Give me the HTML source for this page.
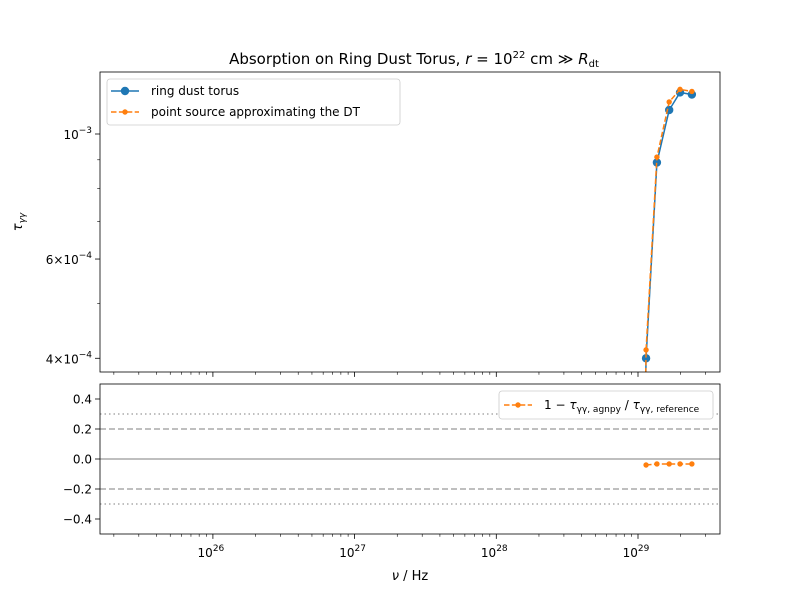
<!DOCTYPE html>
<html><head><meta charset="utf-8"><style>
html,body{margin:0;padding:0;background:#fff;overflow:hidden;width:800px;height:600px;font-family:"Liberation Sans","DejaVu Sans",sans-serif}
svg{display:block}
svg text{font-family:"DejaVu Sans","Liberation Sans",sans-serif;fill:#000}
</style></head><body>
<svg id="c" width="800" height="600" xmlns="http://www.w3.org/2000/svg"></svg>
<script>
const freqs=[1.12e29,1.14e29,1.36e29,1.66e29,1.98e29,2.4e29];
const tauRing=[3.0e-4,4.0e-4,8.9e-4,1.103e-3,1.185e-3,1.175e-3];
const tauPoint=[3.0e-4,4.14e-4,9.1e-4,1.14e-3,1.2e-3,1.19e-3];
const ratio=[null,-0.04,-0.033,-0.033,-0.033,-0.033];
const xTickExp=[26,27,28,29];
const yTopTicks=[4e-4,6e-4,1e-3];
const yTopLabels=["4\u00d710","6\u00d710","10"];
const yTopSup=["\u22124","\u22124","\u22123"];
const yBotTicks=[0.4,0.2,0.0,-0.2,-0.4];

const S=document.getElementById('c');const NS='http://www.w3.org/2000/svg';
function el(t,a,p){const e=document.createElementNS(NS,t);for(const k in a)e.setAttribute(k,a[k]);(p||S).appendChild(e);return e;}
const L=100,R=720,T1=72,B1=372,T2=384,B2=534;
const xs=v=>638+(Math.log10(v)-29)*141.7;
const ys=v=>134-(Math.log10(v)+3)*563.6;
const yb=v=>459-v*150;
const defs=el('defs',{});
const cp1=el('clipPath',{id:'cp1'},defs);el('rect',{x:L,y:T1,width:R-L,height:B1-T1},cp1);
const cp2=el('clipPath',{id:'cp2'},defs);el('rect',{x:L,y:T2,width:R-L,height:B2-T2},cp2);

let t=el('text',{x:414,y:64,'text-anchor':'middle','font-size':15});

t.innerHTML='Absorption on Ring Dust Torus, <tspan font-style="italic">r</tspan> = 10<tspan dy="-6" font-size="10">22</tspan><tspan dy="6"> cm \u226b </tspan><tspan font-style="italic">R</tspan><tspan dy="3" font-size="10">dt</tspan>';

function xticks(yb0,labels){
  for(let e=25;e<=29;e++)for(let m=1;m<10;m++){const v=m*Math.pow(10,e);const x=xs(v);if(x<L||x>R)continue;
    const len=m==1?3.5:2;el('line',{x1:x,x2:x,y1:yb0,y2:yb0+len*1.4,stroke:'#000','stroke-width':m==1?0.8:0.6});}
  if(labels)xTickExp.forEach(e=>{const x=xs(Math.pow(10,e));const tx=el('text',{x:x-2,y:yb0+23,'text-anchor':'middle','font-size':12});
    
    tx.innerHTML='10<tspan dy="-6" font-size="9">'+e+'</tspan>';});
}
xticks(B1,false);xticks(B2,true);

[5e-4,7e-4,8e-4,9e-4].forEach(v=>el('line',{x1:L-2.8,x2:L,y1:ys(v),y2:ys(v),stroke:'#000','stroke-width':0.6}));
yTopTicks.forEach((v,i)=>{const y=ys(v);el('line',{x1:L-5,x2:L,y1:y,y2:y,stroke:'#000','stroke-width':0.8});
  const tx=el('text',{x:L-8,y:y+5,'text-anchor':'end','font-size':12});
  
  tx.innerHTML=yTopLabels[i]+'<tspan dy="-6" font-size="9">'+yTopSup[i]+'</tspan>';});
let yl=el('text',{x:22,y:222,'text-anchor':'middle','font-size':13,transform:'rotate(-90 22 222)'});

yl.innerHTML='<tspan font-style="italic">\u03c4</tspan><tspan dy="3" font-size="9" font-style="italic">\u03b3\u03b3</tspan>';

const g1=el('g',{'clip-path':'url(#cp1)'});
function series(g,ys_,vals,col,dash,r,name,skipFirstMarker){
  const pts=freqs.map((f,i)=>vals[i]==null?null:[xs(f),ys_(vals[i])]).filter(p=>p);
  const pl=el('polyline',{points:pts.map(p=>p.join(',')).join(' '),fill:'none',stroke:col,'stroke-width':1.5,'stroke-dasharray':dash||''},g);
  
  pts.forEach(p=>{if(p[1]>B2)return;const c=el('circle',{cx:p[0],cy:p[1],r:r,fill:col},g);
    });
}
series(g1,ys,tauRing,'#1f77b4','',4.2,'ring-dust-torus');
series(g1,ys,tauPoint,'#ff7f0e','5.5,2.4',2.7,'point-source');
el('rect',{x:L,y:T1,width:R-L,height:B1-T1,fill:'none',stroke:'#000','stroke-width':0.8});

const lg=el('g',{});
el('rect',{x:107,y:79,width:293,height:46,rx:3,fill:'#fff',stroke:'#ccc','stroke-width':0.8},lg);
el('line',{x1:111,x2:139,y1:91,y2:91,stroke:'#1f77b4','stroke-width':1.5},lg);
el('circle',{cx:125,cy:91,r:4.2,fill:'#1f77b4'},lg);
el('text',{x:151,y:95,'font-size':12},lg).textContent='ring dust torus';
el('line',{x1:111,x2:139,y1:112,y2:112,stroke:'#ff7f0e','stroke-width':1.5,'stroke-dasharray':'5.5,2.4'},lg);
el('circle',{cx:125,cy:112,r:2.7,fill:'#ff7f0e'},lg);
el('text',{x:151,y:116,'font-size':12},lg).textContent='point source approximating the DT';

const g2=el('g',{'clip-path':'url(#cp2)'});
[[0.3,'1.5,3','#aaa'],[-0.3,'1.5,3','#aaa'],[0.2,'6,3','#aaa'],[-0.2,'6,3','#aaa'],[0,'','#aaa']].forEach(a=>{
  el('line',{x1:L,x2:R,y1:yb(a[0]),y2:yb(a[0]),stroke:a[2],'stroke-width':1.5,'stroke-dasharray':a[1]},g2);});
series(g2,yb,ratio,'#ff7f0e','5.5,2.4',2.7,'ratio');
yBotTicks.forEach(v=>{const y=yb(v);el('line',{x1:L-5,x2:L,y1:y,y2:y,stroke:'#000','stroke-width':0.8});
  const tx=el('text',{x:L-8,y:y+4.5,'text-anchor':'end','font-size':12});
  
  tx.textContent=(v<0?'\u2212':'')+Math.abs(v).toFixed(1);});
el('rect',{x:L,y:T2,width:R-L,height:B2-T2,fill:'none',stroke:'#000','stroke-width':0.8});
const lg2=el('g',{});
el('rect',{x:499,y:391,width:214,height:28,rx:3,fill:'#fff',stroke:'#ccc','stroke-width':0.8},lg2);
el('line',{x1:504,x2:532,y1:405,y2:405,stroke:'#ff7f0e','stroke-width':1.5,'stroke-dasharray':'5.5,2.4'},lg2);
el('circle',{cx:518,cy:405,r:2.7,fill:'#ff7f0e'},lg2);
const lt=el('text',{x:544,y:409,'font-size':12},lg2);
lt.innerHTML='1 \u2212 <tspan font-style="italic">\u03c4</tspan><tspan dy="3" font-size="9">\u03b3\u03b3, agnpy</tspan><tspan dy="-3"> / </tspan><tspan font-style="italic">\u03c4</tspan><tspan dy="3" font-size="9">\u03b3\u03b3, reference</tspan>';
let xl=el('text',{x:410,y:580,'text-anchor':'middle','font-size':13});

xl.innerHTML='<tspan font-style="italic">\u03bd</tspan> / Hz';
</script>
</body></html>
